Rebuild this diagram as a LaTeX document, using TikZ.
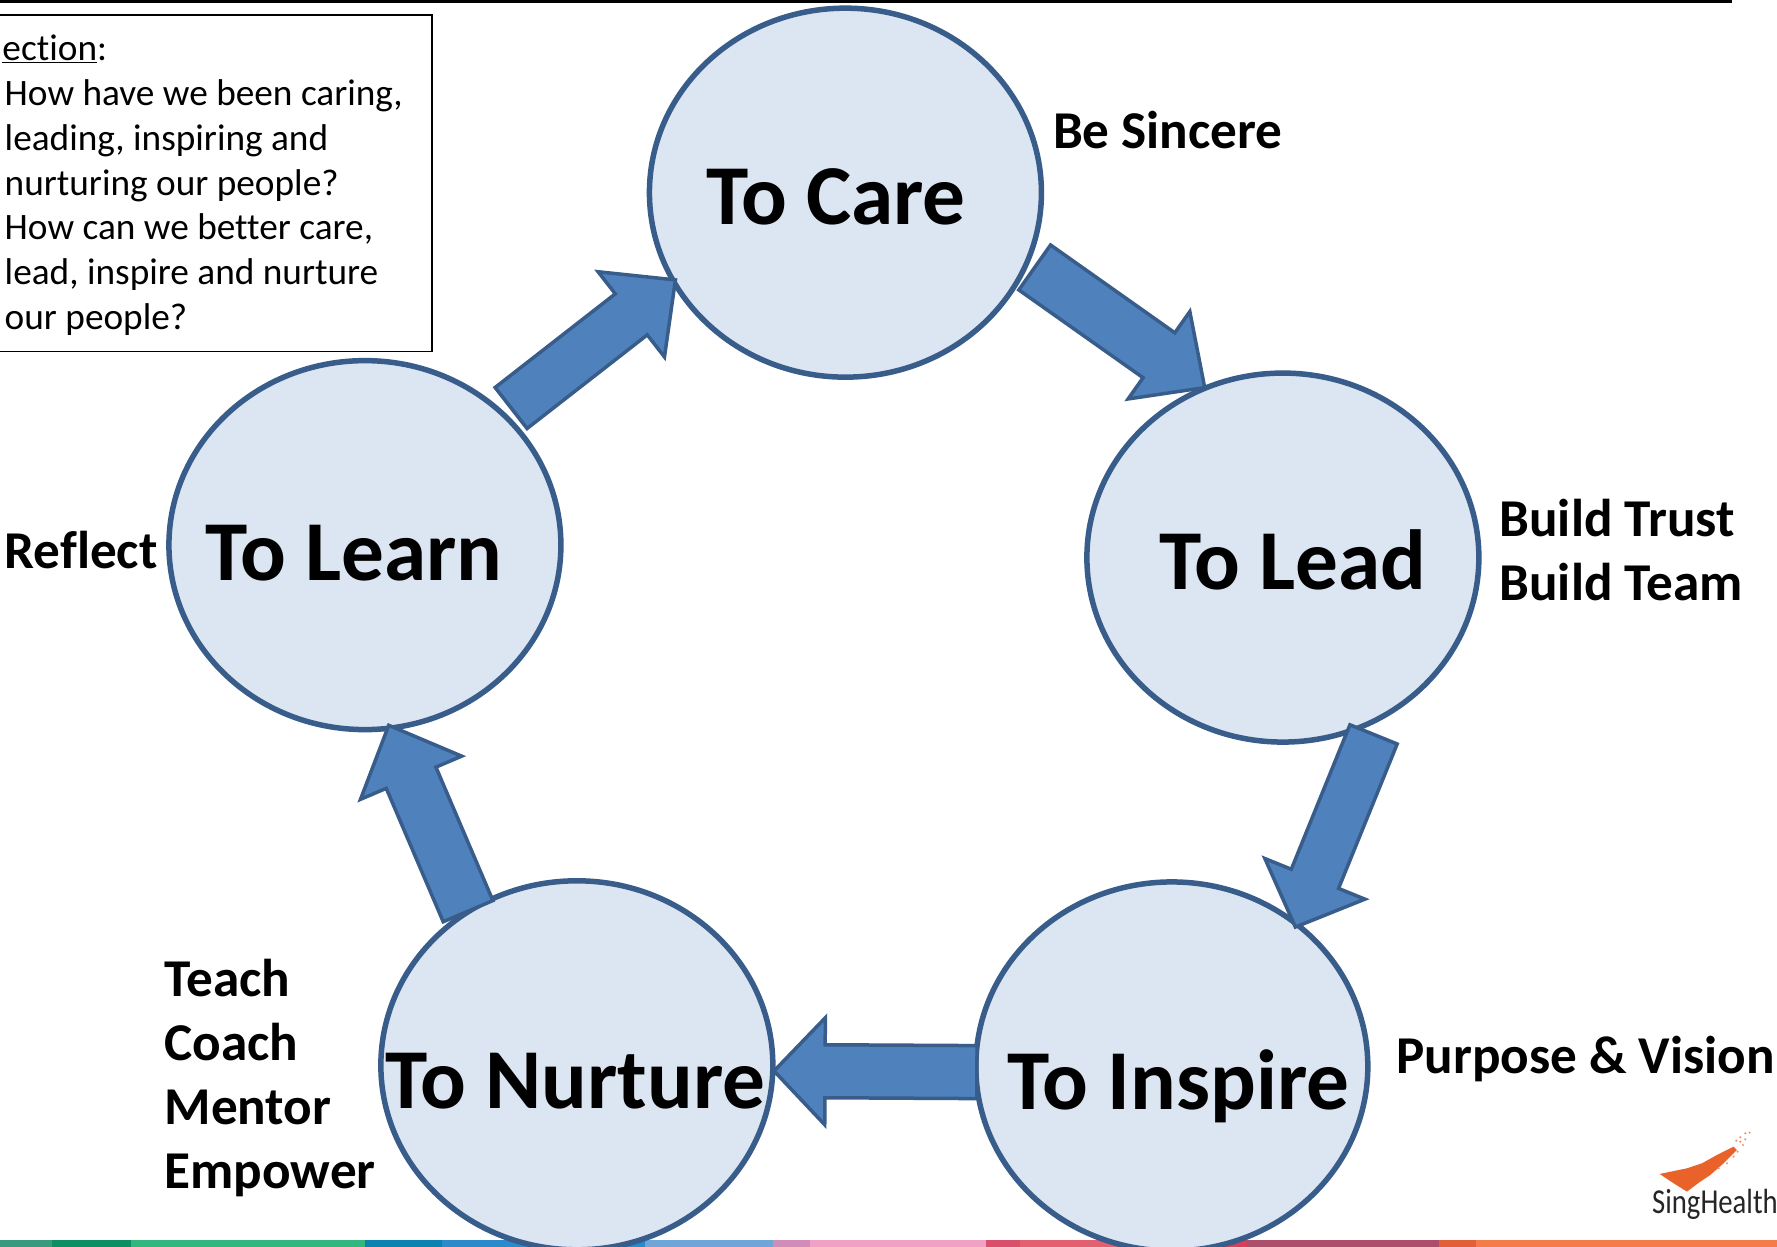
\documentclass[tikz,border=0pt]{standalone}
\usepackage{fontspec}
\setmainfont[Ligatures=NoCommon]{Carlito}
\newfontfamily\logofont[FakeStretch=0.82,Ligatures=NoCommon]{Carlito}
\usetikzlibrary{calc,shapes.geometric}
\definecolor{circfill}{HTML}{DCE6F2}
\definecolor{blueline}{HTML}{385D8A}
\definecolor{arrowfill}{HTML}{4F81BD}
\definecolor{logoorange}{HTML}{E8622A}
\tikzset{
  circ/.style={ellipse,draw=blueline,fill=circfill,line width=5.5pt,minimum width=392pt,minimum height=369pt,inner sep=0pt,outer sep=0pt},
  bigtxt/.style={anchor=base west,inner sep=0pt,font=\fontsize{85.3}{90}\selectfont\bfseries,text=black},
  midtxt/.style={anchor=base west,inner sep=0pt,font=\fontsize{53.2}{60}\selectfont\bfseries,text=black},
  boxtxt/.style={anchor=base west,inner sep=0pt,font=\fontsize{37.3}{44}\selectfont,text=black},
  blockarrow/.style={draw=blueline,fill=arrowfill,line width=3.5pt,line join=miter,miter limit=10}
}
% from, to, shaft half-width, head half-width, head length (all in pt)
\newcommand{\blockarr}[5]{%
  \coordinate (hb) at ($(#2)!#5!(#1)$);
  \draw[blockarrow] ($(#1)!#3!90:(#2)$) -- ($(hb)!#3!-90:(#1)$) -- ($(hb)!#4!-90:(#1)$) -- (#2)
    -- ($(hb)!#4!90:(#1)$) -- ($(hb)!#3!90:(#1)$) -- ($(#1)!#3!-90:(#2)$) -- cycle;
}
\begin{document}
\begin{tikzpicture}[x=1.1333pt,y=-1.1333pt]
\useasboundingbox (0,0) rectangle (1568,1100.3);
\begin{scope}
\clip (0,0) rectangle (1568,1100.3);
\fill[white] (0,0) rectangle (1568,1100.3);
% top rule
\fill[black] (0,0) rectangle (1528,2.6);
% colour bar
\foreach \a/\b/\c in {0/46/3A9A80,46/116/0E8F63,116/322/34B67F,322/390/0A83B0,390/569/2B8AC9,569/682/6FA5D8,682/715/D08DB9,715/870/F2A1C6,870/900/D9506C,900/1000/E2606F,1000/1100/D8405A,1100/1270/AD4F6C,1270/1302/E25F3A,1302/1568/F47B4A}{
  \definecolor{seg}{HTML}{\c}
  \fill[seg] (\a,1094.5) rectangle (\b,1100.3);
}
% circles
\node[circ] (care) at (746,170) {};
\node[circ] (lead) at (1132,492) {};
\node[circ] (learn) at (322,481) {};
\node[circ] (nurture) at (509,940) {};
\node[circ] (inspire) at (1034,941) {};
% circle labels
\node[bigtxt] (tcare) at (623,198.5) {To Care};
\node[bigtxt] (tlead) at (1023,520) {To Lead};
\node[bigtxt] (tlearn) at (181,512) {To Learn};
\node[bigtxt] (tnurture) at (340,978) {To Nurture};
\node[bigtxt] (tinspire) at (889,979) {To Inspire};
% block arrows
\coordinate (a1s) at ($(care)+(167,66)$);
\coordinate (a1e) at ($(lead)+(-69,-150)$);
\blockarr{a1s}{a1e}{27.5pt}{53.5pt}{56pt}
\coordinate (a2s) at ($(lead)+(80,156)$);
\coordinate (a2e) at ($(inspire)+(109,-123)$);
\blockarr{a2s}{a2e}{25.5pt}{54pt}{52pt}
\coordinate (a3s) at ($(inspire)+(-172,5)$);
\coordinate (a3e) at ($(nurture)+(174,5)$);
\blockarr{a3s}{a3e}{26.5pt}{53.5pt}{51pt}
\coordinate (a4s) at ($(nurture)+(-96,-136)$);
\coordinate (a4e) at ($(learn)+(21,159)$);
\blockarr{a4s}{a4e}{27pt}{55pt}{57pt}
\coordinate (a5s) at ($(learn)+(129,-121)$);
\coordinate (a5e) at ($(care)+(-150,77)$);
\blockarr{a5s}{a5e}{26pt}{54pt}{56pt}
% side labels
\node[midtxt] (sincere) at (929,131) {Be Sincere};
\node[midtxt] (trust) at (1323,473) {Build Trust};
\node[midtxt] (team) at (1323,530) {Build Team};
\node[midtxt] (reflect) at (4,502) {Reflect};
\node[midtxt] (purpose) at (1232,947) {Purpose \& Vision};
\node[midtxt] (teach) at (145,879) {Teach};
\node[midtxt] (coach) at (145,936) {Coach};
\node[midtxt] (mentor) at (145,992) {Mentor};
\node[midtxt] (empower) at (145,1049) {Empower};
% reflection box
\draw[black,line width=1.6pt] (-5,13.5) rectangle (381,310);
\node[boxtxt] (l0) at (2,53) {\underline{ection}:};
\node[boxtxt] (l1) at (4,92.8) {How have we been caring,};
\node[boxtxt] (l2) at (4,132.5) {leading, inspiring and};
\node[boxtxt] (l3) at (4,172.2) {nurturing our people?};
\node[boxtxt] (l4) at (4,211.2) {How can we better care,};
\node[boxtxt] (l5) at (4,250.7) {lead, inspire and nurture};
\node[boxtxt] (l6) at (4,290.5) {our people?};
% logo
\begin{scope}[shift={(1391.5,970.6)},x=0.3333pt,y=-0.3333pt]
  \fill[logoorange] (248,222) -- (330,205) -- (375,190) -- (420,165) -- (470,140) -- (480,150) -- (440,190) -- (400,225) -- (370,245) -- (330,275) -- (290,250) -- cycle;
  \foreach \p/\q in {490/125,505/118,518/98,505/100,490/112,478/122,498/135,482/155,470/170,450/190,425/205}{\fill[logoorange!70] (\p,\q) circle (3.5);}
  \node[anchor=base west,inner sep=0pt,text=black!85,font=\logofont\fontsize{35}{38}\selectfont] (singhealth) at (225,340) {SingHealth};
\end{scope}
\end{scope}
\end{tikzpicture}
\end{document}
